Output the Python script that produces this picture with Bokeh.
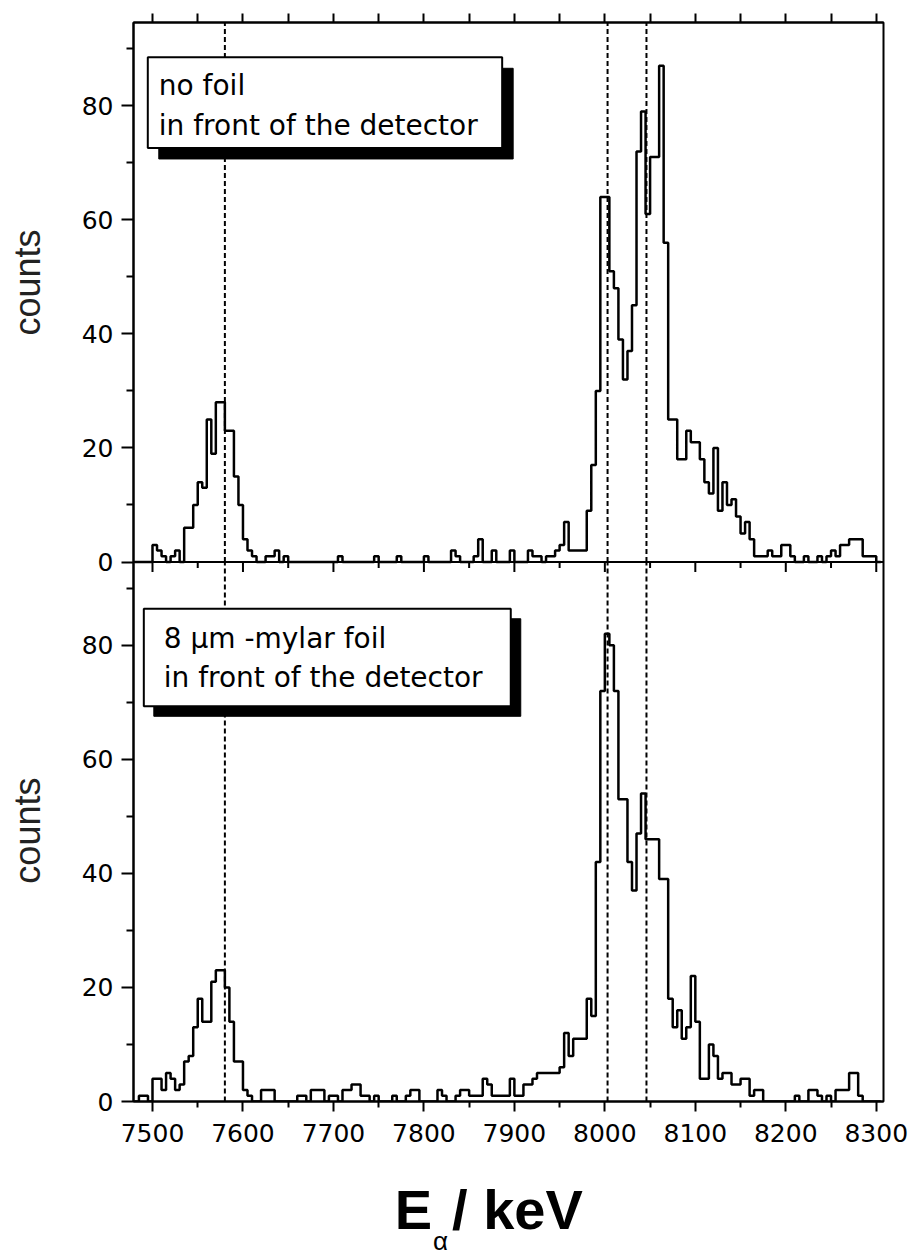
import numpy as np
from bokeh.plotting import figure
from bokeh.models import (LinearAxis, FixedTicker, Label, Range1d, Span,
                          CustomJSTickFormatter)
from bokeh.embed import file_html
from bokeh.resources import INLINE

# ---- spectra: 5 keV bins starting at 7480 keV ----
bin_start = 7480
bin_width = 5

counts_no_foil = [
    0, 0, 0, 0, 3, 2, 1, 0, 1, 2,          # 7480-7525
    0, 6, 6, 10, 14, 13, 25, 19, 28, 28,   # 7530-7575
    23, 23, 15, 10, 4, 2, 1, 0, 0, 1,      # 7580-7625
    1, 2, 0, 1, 0, 0, 0, 0, 0, 0,          # 7630-7675
    0, 0, 0, 0, 0, 1, 0, 0, 0, 0,          # 7680-7725
    0, 0, 0, 1, 0, 0, 0, 0, 1, 0,          # 7730-7775
    0, 0, 0, 0, 1, 0, 0, 0, 0, 0,          # 7780-7825
    2, 1, 0, 0, 0, 1, 4, 0, 0, 2,          # 7830-7875
    0, 0, 0, 2, 0, 0, 0, 2, 1, 1,          # 7880-7925
    0, 1, 1, 2, 3, 7, 2, 2, 2, 2,          # 7930-7975
    9, 17, 30, 64, 64, 51, 48, 39, 32, 37, # 7980-8025
    45, 72, 79, 61, 71, 71, 87, 56, 25, 25,# 8030-8075
    18, 18, 23, 21, 21, 18, 14, 12, 20, 9, # 8080-8125
    14, 10, 11, 8, 5, 7, 4, 1, 1, 1,       # 8130-8175
    2, 1, 1, 3, 3, 1, 0, 0, 1, 0,          # 8180-8225
    0, 1, 0, 1, 2, 1, 3, 3, 4, 4,          # 8230-8275
    4, 1, 1, 1, 0,                         # 8280-8300
]

counts_mylar = [
    0, 1, 1, 0, 4, 4, 2, 5, 4, 2,          # 7480-7525
    3, 7, 8, 13, 18, 14, 14, 21, 23, 23,   # 7530-7575
    20, 14, 7, 7, 2, 1, 0, 0, 2, 2,        # 7580-7625
    2, 0, 0, 0, 0, 0, 1, 1, 0, 2,          # 7630-7675
    2, 2, 0, 1, 1, 0, 2, 2, 3, 3,          # 7680-7725
    1, 1, 0, 1, 0, 0, 0, 1, 0, 0,          # 7730-7775
    1, 2, 2, 0, 0, 0, 0, 2, 1, 0,          # 7780-7825
    0, 1, 2, 2, 1, 1, 1, 4, 3, 1,          # 7830-7875
    1, 1, 1, 4, 1, 1, 3, 3, 4, 5,          # 7880-7925
    5, 5, 5, 5, 6, 12, 8, 11, 11, 11,      # 7930-7975
    18, 15, 42, 72, 82, 80, 72, 53, 53, 42,# 7980-8025
    37, 47, 54, 46, 46, 46, 39, 39, 18, 13,# 8030-8075
    16, 11, 13, 22, 14, 4, 4, 10, 8, 4,    # 8080-8125
    5, 5, 3, 3, 4, 4, 1, 2, 2, 0,          # 8130-8175
    0, 0, 0, 0, 0, 0, 1, 0, 0, 2,          # 8180-8225
    2, 1, 0, 1, 0, 2, 2, 2, 5, 5,          # 8230-8275
    1, 0, 0, 0, 0,                         # 8280-8300
]

# reference line energies (keV)
line_energies = [7580, 8003, 8046]

x_major = [7500, 7600, 7700, 7800, 7900, 8000, 8100, 8200, 8300]
x_minor = [7550, 7650, 7750, 7850, 7950, 8050, 8150, 8250]
y_major = [0, 20, 40, 60, 80]
y_minor = [10, 30, 50, 70, 90]

box_lines_top = ["no foil", "in front of the detector"]
box_lines_bottom = ["8 µm -mylar foil", "in front of the detector"]
y_title = "counts"
x_title_parts = ["E", "/ keV"]
x_title_sub = "α"

# ---- geometry ----
W, H = 910, 1259
BORDER_L, BORDER_R, BORDER_T, BORDER_B = 133, 27, 22, 158
X_RANGE = (7479.0, 8308.0)
Y_MAX = 94.6                       # height of each panel in counts
frame_w = W - BORDER_L - BORDER_R
frame_h = H - BORDER_T - BORDER_B
KEV_PER_PX = (X_RANGE[1] - X_RANGE[0]) / frame_w
CNT_PER_PX = (2 * Y_MAX) / frame_h

FONT_TICK = "DejaVu Sans"
FONT_BOX = "DejaVu Sans"
FONT_TITLE = "Liberation Sans"


def px_x(px):
    """canvas x pixel -> energy"""
    return X_RANGE[0] + (px - BORDER_L) * KEV_PER_PX


# lower panel uses the default y range (its counts sit in the lower half),
# the upper panel uses the "top" range (its counts sit in the upper half)
p = figure(width=W, height=H, x_range=Range1d(*X_RANGE), y_range=Range1d(0, 2 * Y_MAX),
           output_backend="svg", toolbar_location=None, title=None,
           x_axis_location=None, y_axis_location=None,
           min_border_left=BORDER_L, min_border_right=BORDER_R,
           min_border_top=BORDER_T, min_border_bottom=BORDER_B,
           background_fill_color="white", border_fill_color="white")
p.extra_y_ranges = {"top": Range1d(-Y_MAX, Y_MAX)}
p.grid.visible = False
p.outline_line_color = "black"
p.outline_line_width = 2


def style_axis(ax):
    ax.axis_line_width = 2
    ax.major_tick_line_width = 2
    ax.minor_tick_line_width = 2
    ax.axis_line_color = "black"
    ax.major_tick_line_color = "black"
    ax.minor_tick_line_color = "black"


def text_axis(ticks, labels, font_size, standoff, bold=False, orientation="horizontal",
              color="black"):
    """axis without lines whose tick labels carry title text"""
    ax = LinearAxis(ticker=FixedTicker(ticks=ticks),
                    formatter=CustomJSTickFormatter(args=dict(labels=labels),
                                                    code="return labels[index];"))
    ax.axis_line_color = None
    ax.major_tick_line_color = None
    ax.minor_tick_line_color = None
    ax.major_tick_out = 0
    ax.major_tick_in = 0
    ax.minor_tick_out = 0
    ax.minor_tick_in = 0
    ax.major_label_text_font = FONT_TITLE
    ax.major_label_text_font_size = font_size
    ax.major_label_text_font_style = "bold" if bold else "normal"
    ax.major_label_text_color = color
    ax.major_label_standoff = standoff
    ax.major_label_orientation = orientation
    return ax


# left axis carrying the count scale of both panels
left_ticks = y_major + [v + Y_MAX for v in y_major]
left_minor = y_minor + [v + Y_MAX for v in y_minor]
yax = LinearAxis(ticker=FixedTicker(ticks=left_ticks, minor_ticks=left_minor),
                 formatter=CustomJSTickFormatter(
                     args=dict(off=Y_MAX),
                     code="return String(Math.round(tick >= off - 1e-6 ? tick - off : tick));"))
style_axis(yax)
yax.major_tick_out = 12
yax.major_tick_in = 0
yax.minor_tick_out = 7
yax.minor_tick_in = 0
yax.major_label_text_font = FONT_TICK
yax.major_label_text_font_size = "25px"
yax.major_label_text_color = "black"
yax.major_label_standoff = 8
p.add_layout(yax, "left")

# "counts" beside each panel
p.add_layout(text_axis([47.5, 49.0 + Y_MAX], [y_title, y_title], "36px", 30,
                       orientation="vertical", color="#222222"), "left")

# energy axis with labels
bax = LinearAxis(ticker=FixedTicker(ticks=x_major, minor_ticks=x_minor))
style_axis(bax)
bax.major_tick_out = 10
bax.minor_tick_out = 6
bax.major_tick_in = 0
bax.minor_tick_in = 0
bax.major_label_text_font = FONT_TICK
bax.major_label_text_font_size = "25px"
bax.major_label_text_color = "black"
bax.major_label_standoff = 12
p.add_layout(bax, "below")

# energy title: E, then the subscript alpha just under it
p.add_layout(text_axis([px_x(413), px_x(517)], x_title_parts, "56px", 33, bold=True), "below")
p.add_layout(text_axis([px_x(440)], [x_title_sub], "26px", -18), "below")

# top edge: tick marks only
tax = LinearAxis(ticker=FixedTicker(ticks=[], minor_ticks=sorted(x_major + x_minor)))
style_axis(tax)
tax.minor_tick_out = 9
tax.minor_tick_in = 0
p.add_layout(tax, "above")

# dashed reference lines in both panels
n = len(line_energies)
p.segment(x0=line_energies, y0=[0] * n, x1=line_energies, y1=[Y_MAX] * n,
          line_color="black", line_width=2, line_dash="5 3")
p.segment(x0=line_energies, y0=[0] * n, x1=line_energies, y1=[Y_MAX] * n,
          line_color="black", line_width=2, line_dash="5 3", y_range_name="top")


def text_box(left, right, top, bottom, shift_px, range_name):
    dx = shift_px * KEV_PER_PX
    dy = shift_px * CNT_PER_PX
    p.quad(left=[left + dx], right=[right + dx], top=[top - dy], bottom=[bottom - dy],
           fill_color="black", line_color="black", y_range_name=range_name)
    p.quad(left=[left], right=[right], top=[top], bottom=[bottom],
           fill_color="white", line_color="black", line_width=2, y_range_name=range_name)


text_box(7494.8, 7886.5, 88.5, 72.6, 11, "top")
text_box(7490.4, 7896.0, 86.4, 69.3, 10, "default")

# histograms
edges = bin_start + bin_width * np.arange(len(counts_no_foil) + 1)
p.step(x=edges, y=list(counts_no_foil) + [counts_no_foil[-1]], mode="after",
       line_color="black", line_width=2.5, y_range_name="top")
edges_b = bin_start + bin_width * np.arange(len(counts_mylar) + 1)
p.step(x=edges_b, y=list(counts_mylar) + [counts_mylar[-1]], mode="after",
       line_color="black", line_width=2.5)

# tick marks hanging from the panel boundary into the lower panel
tick_major = 10 * CNT_PER_PX
tick_minor = 6 * CNT_PER_PX
p.segment(x0=x_major, y0=[Y_MAX] * len(x_major), x1=x_major,
          y1=[Y_MAX - tick_major] * len(x_major), line_color="black", line_width=2)
p.segment(x0=x_minor, y0=[Y_MAX] * len(x_minor), x1=x_minor,
          y1=[Y_MAX - tick_minor] * len(x_minor), line_color="black", line_width=2)

# panel boundary
p.add_layout(Span(location=Y_MAX, dimension="width", line_color="black", line_width=2))

# text inside the boxes
for (tx, ys, lines, rng) in ((7507.0, (83.5, 76.5), box_lines_top, "top"),
                             (7512.4, (81.1, 74.3), box_lines_bottom, "default")):
    for yy, txt in zip(ys, lines):
        p.add_layout(Label(x=tx, y=yy, text=txt, text_font=FONT_BOX,
                           text_font_size="28px", text_color="black",
                           text_baseline="middle", text_align="left",
                           y_range_name=rng))

open("out.html", "w").write(file_html(p, INLINE))
